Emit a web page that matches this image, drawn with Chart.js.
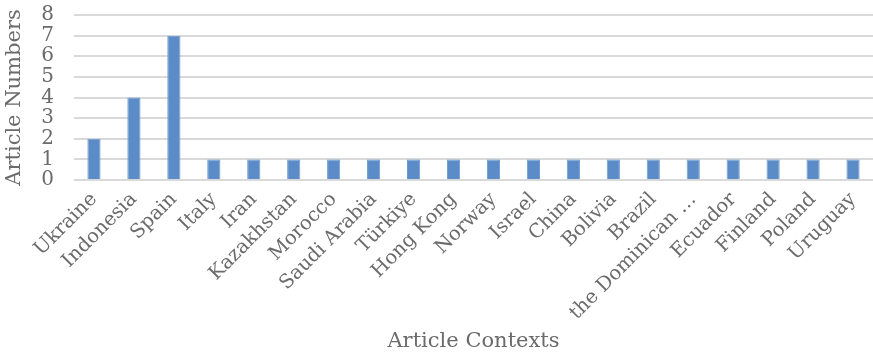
<!DOCTYPE html>
<html>
<head>
<meta charset="utf-8">
<script src="https://cdn.jsdelivr.net/npm/chart.js@4/dist/chart.umd.min.js"></script>
<style>
  html, body { margin: 0; padding: 0; background: #fff; }
  #wrap { width: 873px; height: 356px; }
</style>
</head>
<body>
<div id="wrap"><canvas id="chart"></canvas></div>
<script>
// categories and values
const countries = ["Ukraine", "Indonesia", "Spain", "Italy", "Iran", "Kazakhstan", "Morocco",
  "Saudi Arabia", "Türkiye", "Hong Kong", "Norway", "Israel", "China", "Bolivia", "Brazil",
  "the Dominican …", "Ecuador", "Finland", "Poland", "Uruguay"];
const articleNumbers = [2, 4, 7, 1, 1, 1, 1, 1, 1, 1, 1, 1, 1, 1, 1, 1, 1, 1, 1, 1];
const yTicks = [0, 1, 2, 3, 4, 5, 6, 7, 8];

const grey = "#6b6b6b";
const serif = "'DejaVu Serif', serif";

new Chart(document.getElementById("chart"), {
  type: "bar",
  data: {
    labels: countries,
    datasets: [{
      label: "Article Numbers",
      data: articleNumbers,
      backgroundColor: "#5b8cc8",
      borderColor: "#6e9ad0",
      borderWidth: 1,
      barPercentage: 0.6,
      categoryPercentage: 0.55,
    }],
  },
  options: {
    responsive: true,
    maintainAspectRatio: false,
    animation: false,
    layout: { padding: { top: 15, right: 0, left: 0, bottom: 0 } },
    plugins: { legend: { display: false }, tooltip: { enabled: false } },
    scales: {
      x: {
        grid: { display: false },
        border: { display: false },
        ticks: {
          color: grey,
          font: { family: serif, size: 19.5 },
          minRotation: 45,
          maxRotation: 45,
          autoSkip: false,
          padding: 0,
        },
        title: {
          display: true,
          text: "Article Contexts",
          color: grey,
          font: { family: serif, size: 21 },
          padding: { top: 4, bottom: 2 },
        },
        afterFit: (s) => { s.height = 176; s.paddingTop = 0; s.paddingLeft = 0; s.paddingRight = 0; },
      },
      y: {
        min: yTicks[0],
        max: yTicks[yTicks.length - 1],
        afterBuildTicks: (s) => { s.ticks = yTicks.map((v) => ({ value: v })); },
        grid: { color: "#d9d9d9", lineWidth: 2, drawTicks: false },
        border: { display: false },
        ticks: {
          color: grey,
          font: { family: serif, size: 20 },
          padding: 20,
          autoSkip: false,
        },
        title: {
          display: true,
          text: "Article Numbers",
          color: grey,
          font: { family: serif, size: 21 },
          padding: { top: 2, bottom: 0 },
        },
        afterFit: (s) => { s.width = 74; s.paddingTop = 0; s.paddingBottom = 0; },
      },
    },
  },
});
</script>
</body>
</html>
